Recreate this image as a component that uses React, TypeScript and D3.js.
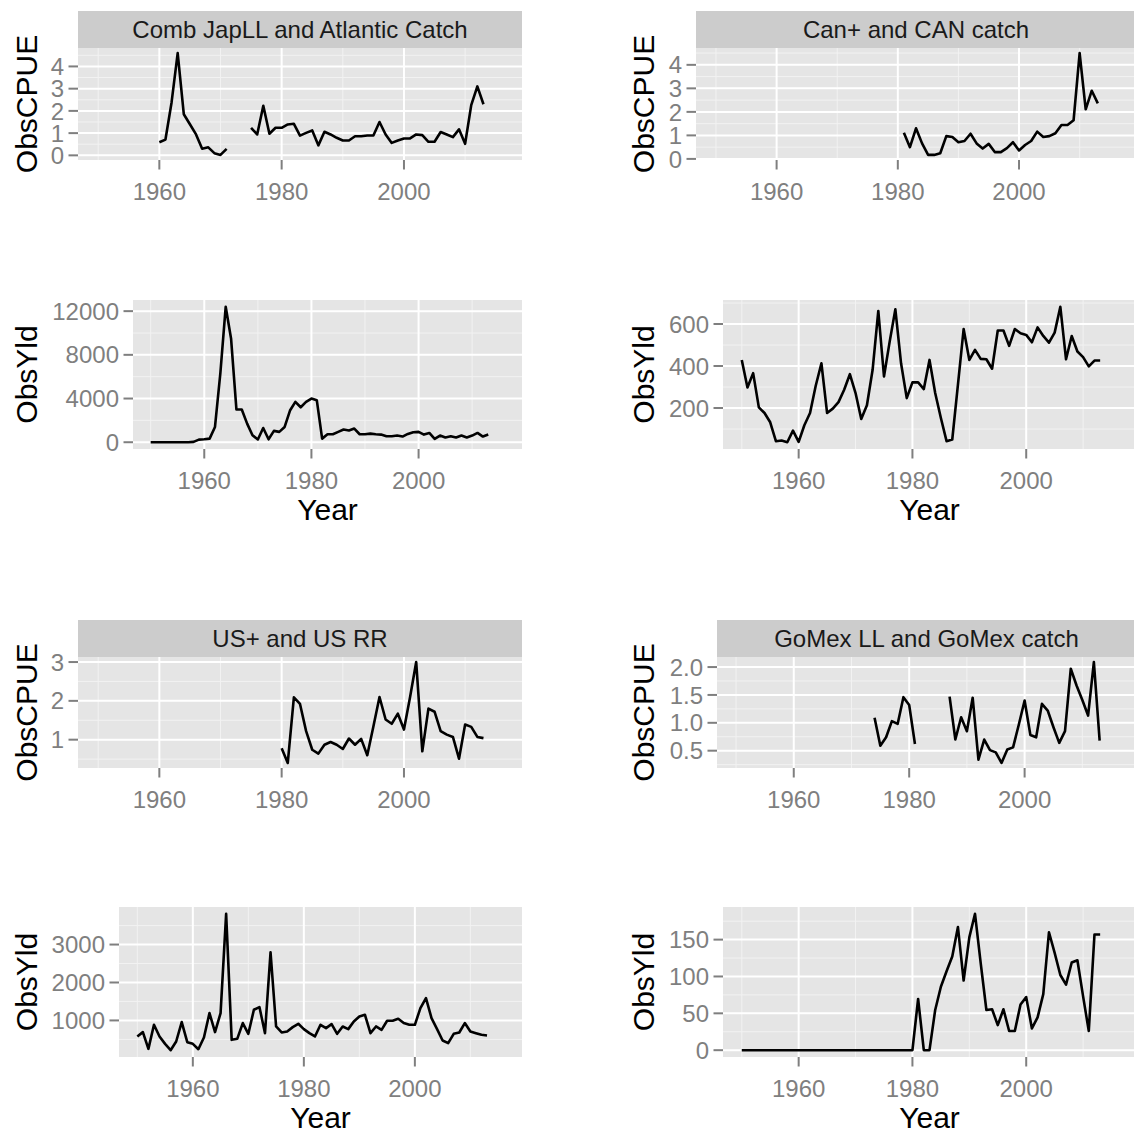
import { useEffect } from 'react'
import * as d3 from 'd3'

const W = 1134
const H = 1133
const FONT = '"Liberation Sans", Arial, Helvetica, sans-serif'

// x axis is shared by all panels
const X_LIMITS: [number, number] = [1950, 2016]
const X_MAJOR = [1960, 1980, 2000]
const X_MINOR = [1950, 1970, 1990, 2010]

// Comb JapLL and Atlantic Catch
const COMB_CPUE_START = 1960
const combCpue = [
  0.59, 0.71, 2.38, 4.6, 1.85, 1.4, 0.94, 0.3, 0.36, 0.1, 0.02, 0.29,
  null, null, null,
  1.24, 0.94, 2.23, 0.97, 1.24, 1.24, 1.39, 1.42, 0.89, 1.01, 1.12, 0.45, 1.06, 0.94, 0.79,
  0.67, 0.67, 0.86, 0.86, 0.89, 0.89, 1.5, 0.94, 0.56, 0.67, 0.76, 0.76, 0.94, 0.91, 0.61,
  0.61, 1.05, 0.94, 0.82, 1.17, 0.52, 2.26, 3.1, 2.3,
]
const COMB_YLD_START = 1950
const combYld = [
  0, 0, 0, 0, 0, 0, 0, 0, 30, 240,
  270, 330, 1400, 6300, 12400, 9500, 3000, 3000, 1700, 640,
  250, 1300, 270, 1040, 950, 1400, 2900, 3700, 3200, 3700,
  4000, 3850, 330, 730, 730, 950, 1160, 1070, 1250, 730,
  730, 790, 730, 700, 550, 550, 610, 520, 760, 920,
  950, 700, 850, 300, 610, 430, 550, 430, 610, 430,
  610, 850, 520, 700,
]

// Can+ and CAN catch
const CAN_CPUE_START = 1981
const canCpue = [
  1.11, 0.5, 1.3, 0.66, 0.17, 0.17, 0.24, 0.97, 0.93, 0.71, 0.76, 1.07, 0.66, 0.44, 0.64,
  0.29, 0.29, 0.46, 0.71, 0.36, 0.59, 0.76, 1.16, 0.93, 0.97, 1.09, 1.44, 1.44, 1.64, 4.5,
  2.11, 2.9, 2.36,
]
const CAN_YLD_START = 1950
const canYld = [
  429, 298, 366, 203, 176, 132, 42, 45, 37, 92,
  39, 118, 176, 306, 413, 176, 197, 228, 287, 361,
  271, 148, 213, 382, 662, 350, 516, 670, 413, 247,
  322, 322, 290, 429, 271, 152, 42, 50, 311, 576,
  429, 477, 434, 432, 387, 569, 569, 496, 576, 556,
  548, 513, 584, 543, 511, 559, 682, 432, 543, 469,
  442, 398, 426, 426,
]

// US+ and US RR
const US_CPUE_START = 1980
const usCpue = [
  0.78, 0.4, 2.09, 1.92, 1.22, 0.74, 0.64, 0.87, 0.94, 0.87, 0.76, 1.03, 0.87, 1.02, 0.6,
  1.34, 2.1, 1.52, 1.41, 1.67, 1.26, 2.1, 3.0, 0.7, 1.8, 1.72, 1.22, 1.13, 1.07, 0.51,
  1.39, 1.33, 1.07, 1.04,
]
const US_YLD_START = 1950
const usYld = [
  577, 692, 251, 885, 577, 383, 216, 445, 956, 427,
  383, 242, 551, 1194, 692, 1194, 3810, 489, 515, 930,
  648, 1282, 1352, 665, 2797, 841, 683, 709, 824, 912,
  771, 665, 577, 885, 797, 903, 648, 841, 771, 974,
  1106, 1150, 665, 841, 753, 991, 991, 1044, 930, 885,
  885, 1326, 1590, 1062, 771, 471, 401, 648, 683, 930,
  709, 665, 621, 603,
]

// GoMex LL and GoMex catch
const GOM_CPUE_START = 1974
const gomCpue = [
  1.09, 0.59, 0.74, 1.03, 0.98, 1.46, 1.32, 0.62,
  null, null, null, null, null,
  1.47, 0.7, 1.1, 0.85, 1.45, 0.34, 0.7, 0.51, 0.47, 0.28, 0.52, 0.56, 0.97, 1.4,
  0.78, 0.74, 1.34, 1.22, 0.92, 0.64, 0.85, 1.97, 1.67, 1.41, 1.13, 2.09, 0.68,
]
const GOM_YLD_START = 1950
const gomYld = [
  0, 0, 0, 0, 0, 0, 0, 0, 0, 0,
  0, 0, 0, 0, 0, 0, 0, 0, 0, 0,
  0, 0, 0, 0, 0, 0, 0, 0, 0, 0,
  0, 69.5, 0, 0, 54.5, 86, 107, 127, 167, 94.5,
  153, 185, 118, 54.5, 55.5, 34, 55.5, 26, 26, 62,
  72, 29.5, 44.5, 76, 160, 132, 102, 89, 119, 122,
  73, 26, 157, 157,
]

// tick breaks per panel
const TICKS_CPUE_04 = [0, 1, 2, 3, 4]
const TICKS_COMB_YLD = [0, 4000, 8000, 12000]
const TICKS_CAN_YLD = [200, 400, 600]
const TICKS_US_CPUE = [1, 2, 3]
const TICKS_US_YLD = [1000, 2000, 3000]
const TICKS_GOM_CPUE = [0.5, 1.0, 1.5, 2.0]
const TICKS_GOM_YLD = [0, 50, 100, 150]

type Pt = { year: number; value: number | null }
const pts = (start: number, vals: (number | null)[]): Pt[] =>
  vals.map((v, i) => ({ year: start + i, value: v }))

const STRIP_H = 37

const PANELS = [
  { data: pts(COMB_CPUE_START, combCpue), ticks: TICKS_CPUE_04, fmt: (t: number) => `${t}`, left: 78, right: 522, top: 48, bottom: 160, titleX: 37, ylab: 'ObsCPUE', strip: 'Comb JapLL and Atlantic Catch' },
  { data: pts(COMB_YLD_START, combYld), ticks: TICKS_COMB_YLD, fmt: (t: number) => `${t}`, left: 133, right: 522, top: 300, bottom: 449, titleX: 37, ylab: 'ObsYld', xTitle: true },
  { data: pts(CAN_CPUE_START, canCpue), ticks: TICKS_CPUE_04, fmt: (t: number) => `${t}`, left: 696, right: 1136, top: 48, bottom: 160, titleX: 654, ylab: 'ObsCPUE', strip: 'Can+ and CAN catch' },
  { data: pts(CAN_YLD_START, canYld), ticks: TICKS_CAN_YLD, fmt: (t: number) => `${t}`, left: 723, right: 1136, top: 300, bottom: 449, titleX: 654, ylab: 'ObsYld', xTitle: true },
  { data: pts(US_CPUE_START, usCpue), ticks: TICKS_US_CPUE, fmt: (t: number) => `${t}`, left: 78, right: 522, top: 657, bottom: 768, titleX: 37, ylab: 'ObsCPUE', strip: 'US+ and US RR' },
  { data: pts(US_YLD_START, usYld), ticks: TICKS_US_YLD, fmt: (t: number) => `${t}`, left: 119, right: 522, top: 907, bottom: 1057, titleX: 37, ylab: 'ObsYld', xTitle: true },
  { data: pts(GOM_CPUE_START, gomCpue), ticks: TICKS_GOM_CPUE, fmt: (t: number) => t.toFixed(1), left: 717, right: 1136, top: 657, bottom: 768, titleX: 654, ylab: 'ObsCPUE', strip: 'GoMex LL and GoMex catch' },
  { data: pts(GOM_YLD_START, gomYld), ticks: TICKS_GOM_YLD, fmt: (t: number) => `${t}`, left: 723, right: 1136, top: 907, bottom: 1057, titleX: 654, ylab: 'ObsYld', xTitle: true },
]

const expand = ([a, b]: [number, number]): [number, number] => {
  const d = (b - a) * 0.05
  return [a - d, b + d]
}

// ggplot-style minor breaks: midpoints between majors, one step beyond each end
function minorBreaks(ticks: number[], domain: [number, number]) {
  const step = ticks[1] - ticks[0]
  const ext = [ticks[0] - step, ...ticks, ticks[ticks.length - 1] + step]
  const out: number[] = []
  for (let i = 0; i < ext.length - 1; i++) out.push((ext[i] + ext[i + 1]) / 2)
  return out.filter((v) => v > domain[0] && v < domain[1])
}

function Panel({ p }: { p: (typeof PANELS)[number] }) {
  const x = d3.scaleLinear().domain(expand(X_LIMITS)).range([p.left, p.right])
  const vals = p.data.filter((d) => d.value != null).map((d) => d.value as number)
  const yDom = expand(d3.extent(vals) as [number, number])
  const y = d3.scaleLinear().domain(yDom).range([p.bottom, p.top])
  const line = d3
    .line<Pt>()
    .defined((d) => d.value != null)
    .x((d) => x(d.year))
    .y((d) => y(d.value as number))
  const yMinor = minorBreaks(p.ticks, yDom)
  const midX = (p.left + p.right) / 2
  const midY = (p.top + p.bottom) / 2

  return (
    <g>
      {p.strip && (
        <g>
          <rect x={p.left} y={p.top - STRIP_H} width={p.right - p.left} height={STRIP_H} fill="#cccccc" />
          <text x={midX} y={p.top - STRIP_H / 2} dy="0.36em" textAnchor="middle" fontSize={24} fill="#1a1a1a">
            {p.strip}
          </text>
        </g>
      )}
      <rect x={p.left} y={p.top} width={p.right - p.left} height={p.bottom - p.top} fill="#e5e5e5" />
      {/* grid */}
      {yMinor.map((t) => (
        <line key={`ym${t}`} x1={p.left} x2={p.right} y1={y(t)} y2={y(t)} stroke="#f2f2f2" strokeWidth={1} />
      ))}
      {X_MINOR.map((t) => (
        <line key={`xm${t}`} x1={x(t)} x2={x(t)} y1={p.top} y2={p.bottom} stroke="#f2f2f2" strokeWidth={1} />
      ))}
      {p.ticks.map((t) => (
        <line key={`y${t}`} x1={p.left} x2={p.right} y1={y(t)} y2={y(t)} stroke="#ffffff" strokeWidth={2} />
      ))}
      {X_MAJOR.map((t) => (
        <line key={`x${t}`} x1={x(t)} x2={x(t)} y1={p.top} y2={p.bottom} stroke="#ffffff" strokeWidth={2} />
      ))}
      <path d={line(p.data) || ''} fill="none" stroke="#000" strokeWidth={2.6} strokeLinejoin="round" />
      {/* y axis */}
      {p.ticks.map((t) => (
        <g key={`yt${t}`}>
          <line x1={p.left - 9.5} x2={p.left} y1={y(t)} y2={y(t)} stroke="#7f7f7f" strokeWidth={2} />
          <text x={p.left - 14} y={y(t)} dy="0.36em" textAnchor="end" fontSize={24} fill="#7f7f7f">
            {p.fmt(t)}
          </text>
        </g>
      ))}
      {/* x axis */}
      {X_MAJOR.map((t) => (
        <g key={`xt${t}`}>
          <line x1={x(t)} x2={x(t)} y1={p.bottom} y2={p.bottom + 9.5} stroke="#7f7f7f" strokeWidth={2} />
          <text x={x(t)} y={p.bottom + 40} textAnchor="middle" fontSize={24} fill="#7f7f7f">
            {t}
          </text>
        </g>
      ))}
      {p.xTitle && (
        <text x={midX} y={p.bottom + 71} textAnchor="middle" fontSize={30} fill="#000">
          Year
        </text>
      )}
      <text
        transform={`translate(${p.titleX},${midY}) rotate(-90)`}
        textAnchor="middle"
        fontSize={30}
        fill="#000"
      >
        {p.ylab}
      </text>
    </g>
  )
}

export default function App() {
  useEffect(() => {
    document.body.style.margin = '0'
  }, [])
  return (
    <div style={{ position: 'absolute', left: 0, top: 0 }}>
      <svg width={W} height={H} viewBox={`0 0 ${W} ${H}`} style={{ display: 'block', fontFamily: FONT }}>
        <rect width={W} height={H} fill="#ffffff" />
        {PANELS.map((p, i) => (
          <Panel key={i} p={p} />
        ))}
      </svg>
    </div>
  )
}
